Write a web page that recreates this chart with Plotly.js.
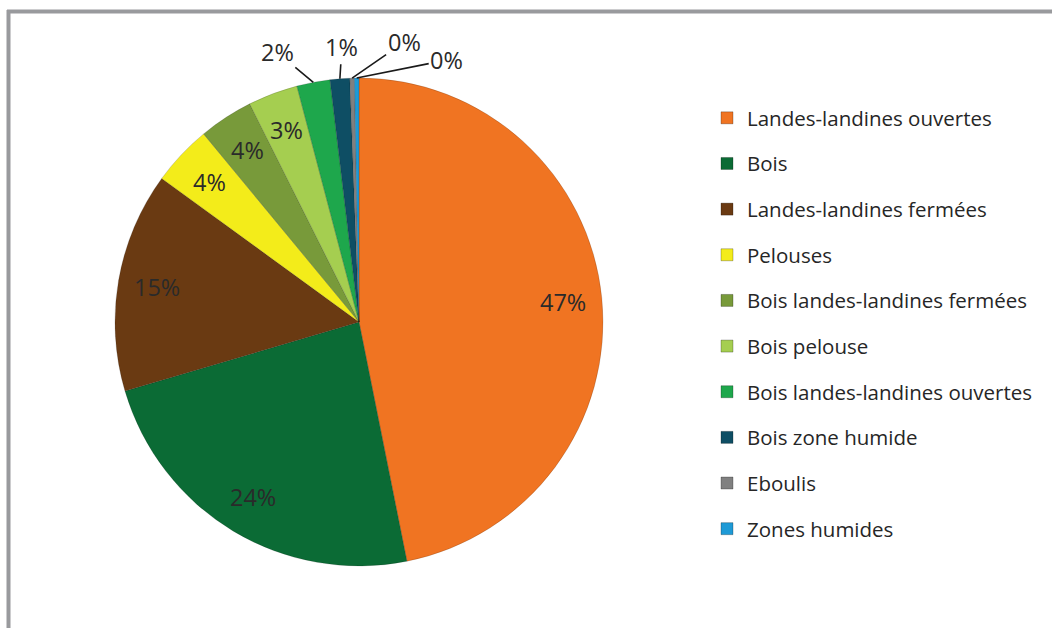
<!DOCTYPE html>
<html>
<head>
<meta charset="utf-8">
<script src="https://cdn.plot.ly/plotly-3.0.1.min.js"></script>
<style>html,body{margin:0;padding:0;background:#fff;}#chart{width:1052px;height:628px;}</style>
</head>
<body>
<div id="chart"></div>
<script>
// Data (percent shares)
const categories = [
  "Landes-landines ouvertes",
  "Bois",
  "Landes-landines fermées",
  "Pelouses",
  "Bois landes-landines fermées",
  "Bois pelouse",
  "Bois landes-landines ouvertes",
  "Bois zone humide",
  "Eboulis",
  "Zones humides"
];
const values = [46.9, 23.6, 14.6, 4.0, 3.6, 3.3, 2.2, 1.3, 0.3, 0.3];
const colors = ["#F07422", "#0B6B35", "#6A3A12", "#F3EC1A", "#789A3A", "#A5CE50", "#1EA74C", "#0E4E64", "#808080", "#1E9AD6"];

// Style / layout constants
const W = 1052, H = 628;
const pieBox = {x0: 115, x1: 603, y0: 78, y1: 566};
const labelFont = {family: "'Open Sans', sans-serif", size: 23.5, color: "#2a2a2a"};
// offsets (px) of the outside labels from the slice rim, for the last four slices
const outsideOffsets = {6: [-36, -30], 7: [2, -32], 8: [52, -36], 9: [90, -18]};

const pie = {
  type: "pie",
  labels: categories,
  values: values,
  sort: false,
  direction: "clockwise",
  rotation: 0,
  marker: {colors: colors, line: {width: 0.6, color: "rgba(0,0,0,0.25)"}},
  textinfo: "none",
  showlegend: false,
  domain: {x: [pieBox.x0 / W, pieBox.x1 / W], y: [1 - pieBox.y1 / H, 1 - pieBox.y0 / H]},
  hoverinfo: "label+percent"
};

// percentage labels placed along each slice's mid-angle
const total = values.reduce((a, b) => a + b, 0);
const cx = (pieBox.x0 + pieBox.x1) / 2, cy = (pieBox.y0 + pieBox.y1) / 2;
const R = (pieBox.x1 - pieBox.x0) / 2;
let cum = 0;
const annotations = [];
values.forEach((v, i) => {
  const mid = (cum + v / 2) / total * 2 * Math.PI;
  cum += v;
  const txt = Math.round(v / total * 100) + "%";
  const off = outsideOffsets[i];
  if (!off) {
    const r = 0.84 * R;
    annotations.push({
      xref: "paper", yref: "paper",
      x: (cx + r * Math.sin(mid)) / W, y: 1 - (cy - r * Math.cos(mid)) / H,
      text: txt, showarrow: false, font: labelFont,
      xanchor: "center", yanchor: "middle"
    });
  } else {
    annotations.push({
      xref: "paper", yref: "paper",
      x: (cx + R * Math.sin(mid)) / W, y: 1 - (cy - R * Math.cos(mid)) / H,
      text: txt, showarrow: true, arrowhead: 0, arrowwidth: 1.6, arrowcolor: "#1a1a1a",
      ax: off[0], ay: off[1], axref: "pixel", ayref: "pixel",
      standoff: 0, startstandoff: 0,
      font: labelFont
    });
  }
});

const legendTraces = categories.map((c, i) => ({
  type: "scatter",
  mode: "markers",
  x: [null], y: [null],
  name: c,
  legendgroup: "g" + i,
  marker: {symbol: "square", size: 12, color: colors[i], line: {width: 1, color: "rgba(0,0,0,0.25)"}},
  showlegend: true,
  hoverinfo: "skip"
}));

const layout = {
  width: W, height: H,
  margin: {l: 0, r: 0, t: 0, b: 0},
  paper_bgcolor: "#ffffff",
  plot_bgcolor: "#ffffff",
  xaxis: {visible: false, domain: [0.7, 0.71]},
  yaxis: {visible: false, domain: [0.5, 0.51]},
  showlegend: true,
  legend: {
    x: 707 / W, xanchor: "left",
    y: 1 - 98 / H, yanchor: "top",
    tracegroupgap: 16,
    font: {family: "'Open Sans', sans-serif", size: 20.5, color: "#262626"},
    bgcolor: "rgba(0,0,0,0)",
    itemclick: false
  },
  annotations: annotations,
  shapes: [
    {type: "line", xref: "paper", yref: "paper", x0: 7 / W, x1: 1, y0: 1 - 11.5 / H, y1: 1 - 11.5 / H, line: {color: "#999A9D", width: 4}},
    {type: "line", xref: "paper", yref: "paper", x0: 8.5 / W, x1: 8.5 / W, y0: 0, y1: 1 - 10 / H, line: {color: "#999A9D", width: 4}}
  ]
};

Plotly.newPlot("chart", [pie].concat(legendTraces), layout, {displayModeBar: false, staticPlot: true});
</script>
</body>
</html>
